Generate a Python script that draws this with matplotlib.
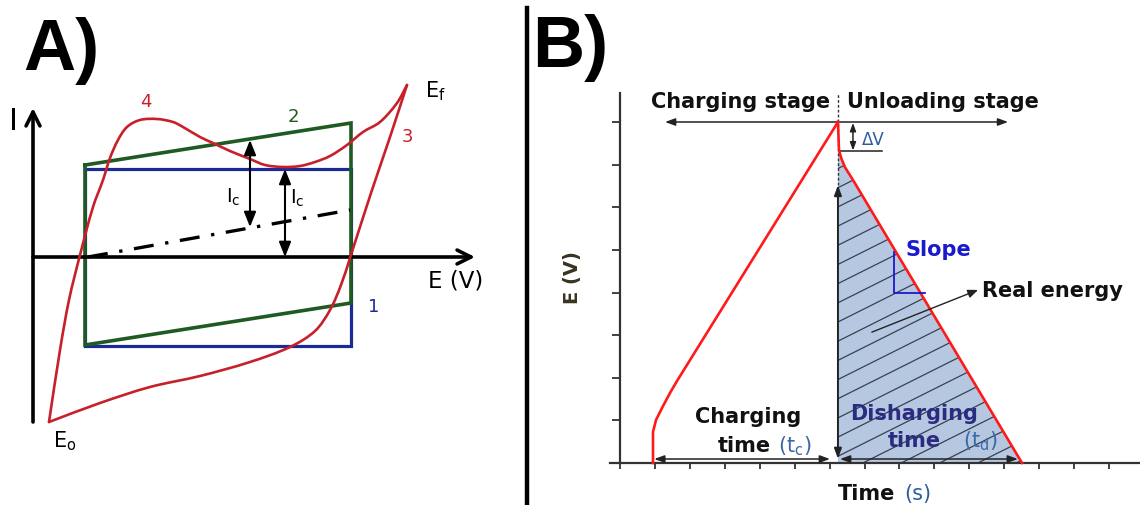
import numpy as np
import matplotlib
matplotlib.use("Agg")
import matplotlib.pyplot as plt
from matplotlib.lines import Line2D
from matplotlib.collections import LineCollection
from matplotlib.patches import Polygon, PathPatch
from matplotlib.path import Path

# ---------------- Panel A data (E in arbitrary units, I in arbitrary units) --------
rect_E = [5.2, 31.8, 31.8, 5.2, 5.2]          # ideal capacitor (1)
rect_I = [8.8, 8.8, -8.9, -8.9, 8.8]
para_E = [5.2, 31.8, 31.8, 5.2, 5.2]          # resistive capacitor (2)
para_I = [9.2, 13.4, -4.6, -8.8, 9.2]
base_E = [5.5, 31.7]                          # dash-dot baseline
base_I = [0.0, 4.7]
# curve 3/4 : forward (lower) branch from E0 to Ef
fwd_E = [1.6, 6.7, 11.7, 16.7, 21.7, 25.7, 28.2, 29.7, 30.8, 31.7, 33.8, 35.7, 37.4]
fwd_I = [-16.5, -14.6, -13.0, -11.9, -10.5, -9.0, -7.4, -5.3, -2.8, -0.1, 6.4, 12.0, 17.2]
# reverse (upper) branch from Ef back to E0
rev_E = [37.4, 36.4, 34.7, 33.0, 31.4, 29.7, 28.2, 26.7, 25.0, 23.2, 21.7, 19.7, 18.0,
         16.7, 15.0, 14.0, 12.4, 10.7, 9.4, 8.5, 7.7, 7.0, 6.0, 4.7, 3.6, 2.7, 1.6]
rev_I = [17.2, 15.4, 13.5, 12.5, 11.2, 10.1, 9.5, 9.1, 9.0, 9.2, 9.8, 10.6, 11.4,
         12.0, 13.0, 13.5, 13.8, 13.7, 13.0, 11.7, 9.9, 7.7, 5.0, 0.2, -4.3, -9.3, -16.5]

# ---------------- Panel B data (time ticks units, voltage ticks units) -------------
charge_t = [0.945, 0.945, 1.031, 1.202, 1.431, 1.632, 6.24]
charge_V = [0.0, 0.727, 1.009, 1.290, 1.642, 1.924, 8.0]
dis_t = [6.24, 6.27, 6.33, 6.44, 6.67, 11.51]
dis_V = [8.0, 7.34, 7.16, 6.94, 6.64, 0.0]
time_ticks = list(range(15))
volt_ticks = list(range(9))

RED_A = '#c8202a'
GREEN = '#1f5a22'
BLUE = '#1c2a96'
RED_B = '#ff1a1a'


def smooth_path(xs, ys):
    """Smooth cubic Bezier through the given points (chord-length tangents)."""
    p = np.column_stack([xs, ys]).astype(float)
    n = len(p)
    tang = []
    for i in range(n):
        a = p[max(i - 1, 0)]
        b = p[min(i + 1, n - 1)]
        d = b - a
        tang.append(d / (np.hypot(*d) + 1e-12))
    verts = [p[0]]
    codes = [Path.MOVETO]
    for i in range(n - 1):
        L = np.hypot(*(p[i + 1] - p[i]))
        verts += [p[i] + tang[i] * L / 3.0, p[i + 1] - tang[i + 1] * L / 3.0, p[i + 1]]
        codes += [Path.CURVE4] * 3
    return Path(verts, codes)


fig = plt.figure(figsize=(11.4, 5.05), dpi=100)

# ======================= Panel A =======================
axA = fig.add_axes([0, 0, 520 / 1140, 1])
axA.set_xlim(-3.3, 48.7)
axA.set_ylim(-24.8, 25.7)
axA.axis('off')

arrow_kw = dict(arrowstyle='->,head_length=0.5,head_width=0.25', lw=2.6, color='k',
                shrinkA=0, shrinkB=0, mutation_scale=20)
axA.annotate('', xy=(0, 14.9), xytext=(0, -16.5), arrowprops=arrow_kw)
axA.annotate('', xy=(44.2, 0), xytext=(0, 0), arrowprops=arrow_kw)

axA.plot(rect_E, rect_I, color=BLUE, lw=2.3, solid_joinstyle='miter')
axA.plot(para_E, para_I, color=GREEN, lw=2.6, solid_joinstyle='miter')
axA.plot(base_E, base_I, color='k', lw=2.4, linestyle=(0, (6, 3.5, 1, 3.5)))
for xs, ys in ((fwd_E, fwd_I), (rev_E, rev_I)):
    axA.add_patch(PathPatch(smooth_path(xs, ys), facecolor='none', edgecolor=RED_A,
                            lw=1.9, capstyle='round', joinstyle='round', zorder=3))

ic_kw = dict(arrowstyle='<|-|>,head_length=0.5,head_width=0.2', lw=1.5, color='k',
             shrinkA=0, shrinkB=0, mutation_scale=18)
axA.annotate('', xy=(21.7, 11.7), xytext=(21.7, 3.0), arrowprops=ic_kw)
axA.annotate('', xy=(25.2, 8.8), xytext=(25.2, 0.0), arrowprops=ic_kw)

axA.text(19.3, 5.4, r'I$_\mathregular{c}$', fontsize=14, va='baseline', ha='left')
axA.text(25.7, 5.3, r'I$_\mathregular{c}$', fontsize=14, va='baseline', ha='left')
axA.text(-2.4, 12.7, 'I', fontsize=22, va='baseline', ha='left')
axA.text(39.5, -3.0, 'E (V)', fontsize=16.5, va='baseline', ha='left')
axA.text(39.2, 16.0, r'E$_\mathregular{f}$', fontsize=15, va='baseline', ha='left')
axA.text(2.0, -19.0, r'E$_\mathregular{o}$', fontsize=15, va='baseline', ha='left')
axA.text(10.7, 15.0, '4', fontsize=13, color=RED_A, va='baseline', ha='left')
axA.text(25.5, 13.5, '2', fontsize=13, color=GREEN, va='baseline', ha='left')
axA.text(36.9, 11.5, '3', fontsize=13, color=RED_A, va='baseline', ha='left')
axA.text(33.5, -5.5, '1', fontsize=13, color=BLUE, va='baseline', ha='left')

fig.text(23 / 1140, 1 - 70 / 505, 'A)', fontsize=52, family='Liberation Sans',
         weight='bold', va='baseline', ha='left')

# divider
fig.add_artist(Line2D([527 / 1140, 527 / 1140], [0, 1 - 8 / 505], transform=fig.transFigure,
                      lw=3.2, color='k'))

# ======================= Panel B =======================
axB = fig.add_axes([527 / 1140, 0, 613 / 1140, 1])
axB.set_xlim(-2.662, 14.887)
axB.set_ylim(-0.985, 10.862)
axB.patch.set_alpha(0)
for s in ('top', 'right'):
    axB.spines[s].set_visible(False)
axB.spines['left'].set_position(('data', 0))
axB.spines['left'].set_bounds(0, 8.68)
axB.spines['bottom'].set_position(('data', 0))
axB.spines['bottom'].set_bounds(-0.29, 14.887)
for s in ('left', 'bottom'):
    axB.spines[s].set_color('#333333')
    axB.spines[s].set_linewidth(1.6)
axB.set_xticks(time_ticks)
axB.set_yticks(volt_ticks)
axB.tick_params(axis='x', direction='out', length=4, width=1.3, color='#333333',
                labelbottom=False)
axB.tick_params(axis='y', direction='out', length=6, width=1.3, color='#333333',
                labelleft=False)

# shaded discharge area with hatch lines
poly_t = [6.24] + dis_t[1:] + [6.24]
poly_V = [7.34] + dis_V[1:] + [0.0]
poly = Polygon(np.column_stack([poly_t, poly_V]), closed=True, facecolor='#b6c8e1',
               edgecolor='none', zorder=1)
axB.add_patch(poly)
slope_h = 0.41
segs = []
for c in np.arange(-6.0, 9.0, 0.45):
    segs.append([(6.0, c + slope_h * 6.0), (12.0, c + slope_h * 12.0)])
lc = LineCollection(segs, colors='#3a4050', linewidths=0.9, zorder=2)
axB.add_collection(lc)
lc.set_clip_path(poly)

axB.plot(charge_t, charge_V, color=RED_B, lw=1.9, zorder=4)
axB.plot(dis_t, dis_V, color=RED_B, lw=1.9, zorder=4)

# dashed vertical at peak
axB.plot([6.24, 6.24], [6.52, 8.68], color='#333333', lw=1.0, linestyle=(0, (2, 1.5)), zorder=3)

small = dict(arrowstyle='<|-|>,head_length=0.6,head_width=0.22', lw=1.1, color='#222222',
             shrinkA=0, shrinkB=0, mutation_scale=10)
# stage arrow
axB.annotate('', xy=(1.29, 8.0), xytext=(11.11, 8.0), arrowprops=small)
# discharge vertical arrow
axB.annotate('', xy=(6.24, 6.52), xytext=(6.24, 0.1),
             arrowprops=dict(small, lw=1.4), zorder=5)
# charging / discharging time arrows
axB.annotate('', xy=(0.98, 0.094), xytext=(6.01, 0.094), arrowprops=small)
axB.annotate('', xy=(6.30, 0.094), xytext=(11.39, 0.094), arrowprops=small)
# delta V
axB.annotate('', xy=(6.67, 7.98), xytext=(6.67, 7.33), arrowprops=dict(small, mutation_scale=8))
axB.plot([6.27, 7.50], [7.32, 7.32], color='#222222', lw=1.1)
# slope triangle
axB.plot([7.84, 7.84, 8.73], [4.95, 3.99, 3.99], color='#1a1acc', lw=1.3, zorder=5)
# real energy arrow
axB.annotate('', xy=(10.25, 4.06), xytext=(7.21, 3.07),
             arrowprops=dict(arrowstyle='-|>,head_length=0.6,head_width=0.25', lw=1.0,
                             color='#222222', shrinkA=0, shrinkB=0, mutation_scale=10),
             zorder=5)

bold = dict(fontsize=15, weight='bold', va='baseline', ha='left')
axB.text(6.01, 8.33, 'Charging stage', **dict(bold, ha='right'), color='#111111')
axB.text(6.50, 8.33, 'Unloading stage', **bold, color='#111111')
axB.text(6.93, 7.46, 'ΔV', fontsize=12, color='#2a5f9e', va='baseline', ha='left')
axB.text(8.16, 4.86, 'Slope', **bold, color='#1a1acc')
axB.text(10.36, 3.89, 'Real energy', **bold, color='#111111')
axB.text(2.15, 0.94, 'Charging', **bold, color='#111111')
axB.text(2.81, 0.26, 'time', **bold, color='#111111')
axB.text(4.52, 0.26, r'(t$_\mathregular{c}$)', fontsize=15, color='#3a6aa5', va='baseline', ha='left')
axB.text(6.58, 1.01, 'Disharging', **bold, color='#2b2b80', zorder=6)
axB.text(7.67, 0.375, 'time', **bold, color='#2b2b80', zorder=6)
axB.text(9.82, 0.375, r'(t$_\mathregular{d}$)', fontsize=15, color='#3a6aa5', va='baseline', ha='left', zorder=6)
axB.text(6.24, -0.87, 'Time', **bold, color='#111111')
axB.text(8.15, -0.87, '(s)', fontsize=15, color='#2a5f9e', va='baseline', ha='left')
axB.text(-1.35, 4.36, 'E (V)', fontsize=14, weight='bold', rotation=90, va='center',
         ha='center', color='#3a3320')

fig.text(532 / 1140, 1 - 67 / 505, 'B)', fontsize=52, family='Liberation Sans',
         weight='bold', va='baseline', ha='left')

fig.savefig('out.png', dpi=100)
